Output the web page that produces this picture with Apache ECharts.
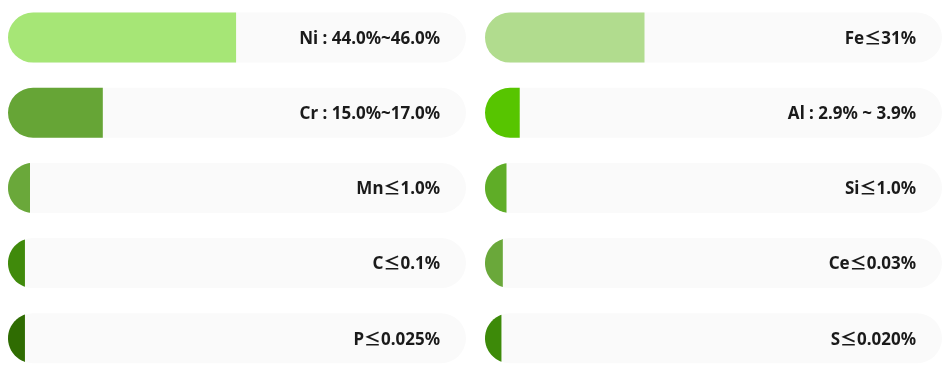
<!DOCTYPE html>
<html>
<head>
<meta charset="utf-8">
<script src="https://cdn.jsdelivr.net/npm/echarts@6/dist/echarts.min.js"></script>
<style>
html,body{margin:0;padding:0;background:#fff;}
#chart{width:942px;height:371px;}
</style>
</head>
<body>
<div id="chart"></div>
<script>
// Left column
const leftLabels = ['Ni : 44.0%~46.0%', 'Cr : 15.0%~17.0%', 'Mn≤1.0%', 'C≤0.1%', 'P≤0.025%'];
const leftValues = [49.8, 20.7, 4.8, 3.7, 3.7];
const leftColors = ['#a6e676', '#66a536', '#6aa83a', '#408a0b', '#2f6c02'];
// Right column
const rightLabels = ['Fe≤31%', 'Al : 2.9% ~ 3.9%', 'Si≤1.0%', 'Ce≤0.03%', 'S≤0.020%'];
const rightValues = [34.9, 7.6, 4.7, 3.9, 3.6];
const rightColors = ['#b1dc8e', '#57c500', '#5fad27', '#6aa83a', '#3d8a09'];

const BAR_H = 50, R = 25;

function makeRender(labels, colors) {
  return function (params, api) {
    const v = api.value(0);
    const idx = api.value(1);
    const p0 = api.coord([0, idx]);
    const p1 = api.coord([100, idx]);
    const pv = api.coord([v, idx]);
    const x0 = p0[0], x1 = p1[0], cy = p0[1];
    const w = pv[0] - x0;
    const children = [{
      type: 'rect',
      shape: { x: x0, y: cy - BAR_H / 2, width: x1 - x0, height: BAR_H, r: R },
      style: { fill: '#fafafa' },
      z2: 1
    }];
    if (w >= R) {
      children.push({
        type: 'rect',
        shape: { x: x0, y: cy - BAR_H / 2, width: w, height: BAR_H, r: [R, 0, 0, R] },
        style: { fill: colors[params.dataIndex] },
        z2: 2
      });
    } else {
      const cx = x0 + R;
      const a = Math.acos((w - R) / R);
      const pts = [];
      const n = 40;
      for (let i = 0; i <= n; i++) {
        const phi = a + (2 * Math.PI - 2 * a) * i / n;
        pts.push([cx + R * Math.cos(phi), cy + R * Math.sin(phi)]);
      }
      children.push({
        type: 'polygon',
        shape: { points: pts },
        style: { fill: colors[params.dataIndex] },
        z2: 2
      });
    }
    children.push({
      type: 'text',
      x: x1 - 26,
      y: cy + 1.5,
      style: {
        text: labels[params.dataIndex],
        align: 'right',
        verticalAlign: 'middle',
        fill: '#1a1a1a',
        font: 'bold 17px "Noto Sans", "Noto Sans CJK KR", sans-serif'
      },
      z2: 3
    });
    return { type: 'group', children: children };
  };
}

const chart = echarts.init(document.getElementById('chart'), null, { renderer: 'canvas' });
chart.setOption({
  animation: false,
  grid: [
    { left: 8, top: 0, width: 458, height: 371 },
    { left: 485, top: 0, width: 458, height: 371 }
  ],
  xAxis: [
    { type: 'value', gridIndex: 0, min: 0, max: 100, show: false },
    { type: 'value', gridIndex: 1, min: 0, max: 100, show: false }
  ],
  yAxis: [
    { type: 'value', gridIndex: 0, min: -0.5, max: 4.436, inverse: true, show: false },
    { type: 'value', gridIndex: 1, min: -0.5, max: 4.436, inverse: true, show: false }
  ],
  series: [
    {
      type: 'custom', xAxisIndex: 0, yAxisIndex: 0, clip: false,
      renderItem: makeRender(leftLabels, leftColors),
      encode: { x: 0, y: 1 },
      data: leftValues.map((v, i) => [v, i])
    },
    {
      type: 'custom', xAxisIndex: 1, yAxisIndex: 1, clip: false,
      renderItem: makeRender(rightLabels, rightColors),
      encode: { x: 0, y: 1 },
      data: rightValues.map((v, i) => [v, i])
    }
  ]
});
</script>
</body>
</html>
